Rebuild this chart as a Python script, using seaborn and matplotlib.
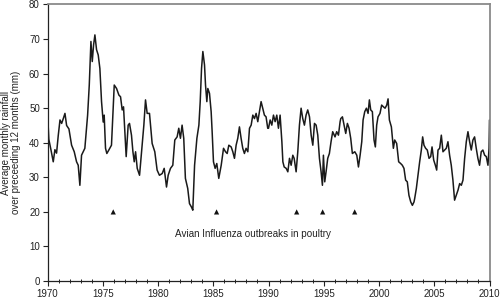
import pandas as pd
import seaborn as sns
import matplotlib.pyplot as plt
from matplotlib.ticker import MultipleLocator

# 12-month running mean of monthly rainfall
years = [
    1970.00, 1970.06, 1970.12, 1970.31, 1970.52, 1970.67, 1970.82, 1970.97, 1971.13, 1971.28,
    1971.43, 1971.58, 1971.73, 1971.94, 1972.18, 1972.42, 1972.63, 1972.78, 1972.93, 1973.08,
    1973.38, 1973.63, 1973.78, 1973.93, 1974.05, 1974.17, 1974.29, 1974.44, 1974.59, 1974.74,
    1974.89, 1975.04, 1975.13, 1975.25, 1975.37, 1975.55, 1975.79, 1976.04, 1976.25, 1976.46,
    1976.61, 1976.76, 1976.88, 1977.00, 1977.12, 1977.30, 1977.42, 1977.60, 1977.73, 1977.85,
    1977.97, 1978.12, 1978.33, 1978.51, 1978.72, 1978.87, 1979.02, 1979.23, 1979.47, 1979.71,
    1979.92, 1980.13, 1980.38, 1980.56, 1980.77, 1980.92, 1981.13, 1981.34, 1981.52, 1981.73,
    1981.88, 1982.03, 1982.18, 1982.33, 1982.48, 1982.69, 1982.85, 1983.03, 1983.15,
    1983.31, 1983.52, 1983.70, 1983.82, 1983.94, 1984.06, 1984.21, 1984.30, 1984.42, 1984.51,
    1984.66, 1984.81, 1984.90, 1985.02, 1985.17, 1985.32, 1985.50, 1985.72, 1985.93, 1986.11,
    1986.26, 1986.41, 1986.62, 1986.77, 1986.92, 1987.07, 1987.22, 1987.37, 1987.52, 1987.67,
    1987.82, 1987.97, 1988.13, 1988.28, 1988.43, 1988.58, 1988.73, 1988.88, 1989.03, 1989.18,
    1989.33, 1989.48, 1989.63, 1989.78, 1989.93,
    1990.00, 1990.15, 1990.30, 1990.45, 1990.60, 1990.75, 1990.90, 1991.05, 1991.21, 1991.30,
    1991.42, 1991.60, 1991.75, 1991.90, 1992.05, 1992.20, 1992.32, 1992.50, 1992.65, 1992.80,
    1992.95, 1993.10, 1993.25, 1993.40, 1993.55, 1993.71, 1993.86, 1994.01, 1994.16, 1994.31,
    1994.46, 1994.61, 1994.76, 1994.88, 1994.97, 1995.09, 1995.21, 1995.36, 1995.51, 1995.66,
    1995.81, 1996.02, 1996.17, 1996.33, 1996.48,
    1996.54, 1996.69, 1996.84, 1996.99, 1997.14, 1997.29, 1997.44, 1997.59, 1997.81, 1997.99,
    1998.14, 1998.29, 1998.44, 1998.56, 1998.71, 1998.86, 1999.01, 1999.13, 1999.25, 1999.40,
    1999.55, 1999.67, 1999.79, 1999.91, 2000.09, 2000.24, 2000.40, 2000.55, 2000.70, 2000.82,
    2000.94, 2001.12, 2001.30, 2001.42, 2001.60, 2001.78, 2001.96, 2002.11, 2002.26, 2002.41,
    2002.56, 2002.71, 2002.87, 2003.02, 2003.17,
    2003.23, 2003.38, 2003.53, 2003.68, 2003.83, 2003.95, 2004.07, 2004.22, 2004.37, 2004.53,
    2004.68, 2004.80, 2004.95, 2005.10, 2005.22, 2005.34, 2005.49, 2005.64, 2005.79, 2005.94,
    2006.09, 2006.24, 2006.39, 2006.54, 2006.69, 2006.84, 2006.99, 2007.15, 2007.30, 2007.45,
    2007.60, 2007.75, 2007.90, 2008.05, 2008.20, 2008.35, 2008.50, 2008.65, 2008.80, 2008.95,
    2009.10, 2009.25, 2009.40, 2009.56, 2009.71, 2009.86, 2009.96, 2010.00,
]
rain = [
    44.0, 45.0, 41.0, 38.0, 34.5, 38.0, 37.0, 42.0, 46.6, 45.6,
    47.0, 48.5, 45.0, 44.0, 39.3, 37.4, 34.5, 33.5, 27.7, 36.4,
    38.4, 48.0, 56.7, 69.3, 63.5, 68.3, 71.2, 66.9, 65.4, 61.5,
    51.9, 46.0, 48.0, 38.4, 36.9, 37.9, 39.3, 56.7, 55.7, 53.8,
    53.3, 49.5, 50.4, 43.2, 36.0, 45.1, 45.6, 42.2, 37.4, 34.5,
    37.4, 32.6, 30.6, 37.4, 45.1, 52.4, 48.5, 48.5, 39.8, 37.4,
    32.1, 30.6, 31.1, 32.6, 27.2, 30.6, 32.6, 33.5, 40.8, 41.7,
    44.2, 41.3, 45.1, 41.3, 29.7, 26.8, 22.4, 21.4, 20.5,
    33.5, 41.3, 45.1, 51.9, 61.5, 66.4, 62.5, 56.7, 51.9, 55.7,
    54.3, 49.0, 43.2, 34.5, 32.6, 34.0, 29.7, 33.5, 38.4, 37.4,
    36.9, 39.3, 38.8, 37.4, 35.5, 39.3, 41.3, 44.6, 41.3, 38.4,
    36.9, 38.4, 37.4, 44.2, 45.1, 48.0, 47.0, 48.5, 46.1, 49.0,
    51.9, 50.0, 48.0, 47.5, 44.2,
    44.2, 46.6, 45.1, 48.0, 46.1, 48.0, 44.2, 48.0, 40.3, 34.5,
    33.0, 32.6, 31.6, 35.5, 33.5, 36.4, 35.5, 31.6, 37.4, 45.1,
    50.0, 47.0, 45.1, 48.0, 49.5, 47.5, 42.2, 39.3, 45.6, 45.1,
    42.2, 35.5, 31.6, 27.7, 36.4, 28.7, 31.6, 35.5, 36.9, 40.3,
    43.2, 41.7, 43.2, 42.2, 46.1,
    47.0, 47.5, 45.1, 42.7, 45.6, 44.2, 41.3, 36.9, 37.4, 36.4,
    33.0, 36.4, 40.3, 46.6, 49.0, 50.0, 48.5, 52.4, 49.5, 49.0,
    40.8, 38.8, 45.1, 47.5, 48.5, 50.9, 50.4, 50.0, 50.9, 52.7,
    46.6, 44.6, 38.4, 40.8, 39.8, 34.5, 34.0, 33.5, 32.6, 29.2,
    28.7, 24.8, 22.9, 21.9, 22.9,
    23.9, 26.8, 30.6, 34.5, 37.9, 41.7, 39.3, 38.4, 37.9, 35.5,
    36.0, 38.8, 35.0, 33.5, 32.1, 37.9, 38.4, 42.2, 37.4, 37.9,
    38.4, 40.3, 36.4, 33.5, 29.2, 23.4, 24.8, 26.3, 28.2, 27.7,
    29.2, 35.5, 40.3, 43.2, 40.3, 37.9, 40.8, 41.7, 38.4, 35.5,
    33.5, 37.4, 37.9, 36.4, 36.0, 33.5, 38.4, 46.6,
]

# avian influenza outbreaks
outbreak_years = [1975.95, 1985.3, 1992.55, 1994.9, 1997.8]
outbreak_level = [20, 20, 20, 20, 20]

sns.set_style('ticks')
plt.rcParams['font.family'] = ['Liberation Sans', 'DejaVu Sans']

df = pd.DataFrame({'year': years, 'rain': rain})
df_ai = pd.DataFrame({'year': outbreak_years, 'y': outbreak_level})

fig = plt.figure(figsize=(5, 2.99), dpi=100)
ax = fig.add_axes([0.095, 0.06, 0.884, 0.925])

sns.lineplot(data=df, x='year', y='rain', ax=ax, color='#1a1a1a', linewidth=1.1)
sns.scatterplot(data=df_ai, x='year', y='y', ax=ax, marker='^', s=14,
                color='#111111', edgecolor='none')

ax.text(1988.6, 13.6, 'Avian Influenza outbreaks in poultry',
        ha='center', va='center', fontsize=7.1, color='#222222')

ax.set_xlim(1970, 2010)
ax.set_ylim(0, 80)
ax.xaxis.set_major_locator(MultipleLocator(5))
ax.xaxis.set_minor_locator(MultipleLocator(1))
ax.yaxis.set_major_locator(MultipleLocator(10))

ax.set_xlabel('')
ax.set_ylabel('Average monthly rainfall\nover preceeding 12 months (mm)',
              fontsize=7, color='#222222', linespacing=1.1)
ax.yaxis.set_label_coords(-0.059, 0.5)

ax.tick_params(axis='both', which='major', labelsize=7, labelcolor='#222222',
               length=3.5, width=0.8, color='#222222', pad=2)
ax.tick_params(axis='x', which='minor', direction='inout', length=3.5, width=0.7,
               color='#222222')

for s in ['left', 'bottom']:
    ax.spines[s].set_color('#222222')
    ax.spines[s].set_linewidth(0.9)
for s in ['top', 'right']:
    ax.spines[s].set_color('#8a8a8a')
    ax.spines[s].set_linewidth(1.3)

fig.savefig('out.png', dpi=100)
